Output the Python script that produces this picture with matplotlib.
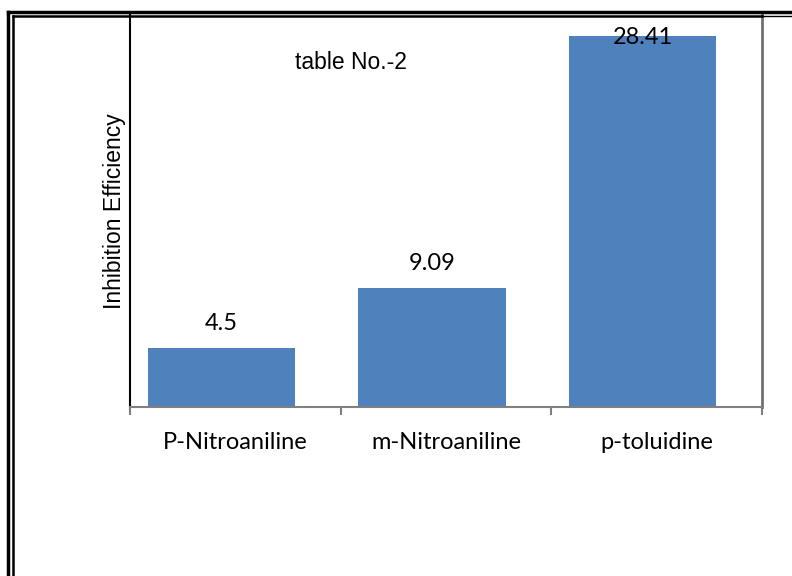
import matplotlib.pyplot as plt
from matplotlib.lines import Line2D
import numpy as np

# data
compounds = ['P-Nitroaniline', 'm-Nitroaniline', 'p-toluidine']
efficiency = [4.5, 9.09, 28.41]
value_labels = ['4.5', '9.09', '28.41']

W, H = 792, 576
fig = plt.figure(figsize=(W / 100, H / 100), dpi=100)
ax = fig.add_axes([130 / W, 1 - 407 / H, (762 - 130) / W, (407 - 15) / H])

x = np.arange(len(compounds))
bar_x = x - 0.066  # bars sit a little left of the category centre
bars = ax.bar(bar_x, efficiency, width=0.7, color='#4f81bd')

ax.set_xlim(-0.5, len(compounds) - 0.5)
ax.set_ylim(0, 30)

# value labels above bars, clamped inside the plot
for xi, v, lab in zip(bar_x, efficiency, value_labels):
    y = min(v + 1.9, 28.25)
    ax.text(xi, y, lab, ha='center', va='center', fontsize=17,
            family='Lato', color='black')

ax.set_yticks([])
ax.set_xticks(x)
ax.set_xticklabels(compounds, fontsize=17, family='Lato')
ax.tick_params(axis='x', which='major', length=0, pad=18)
ax.set_xticks(np.arange(-0.5, len(compounds)), minor=True)
ax.tick_params(axis='x', which='minor', length=6, width=1.5, color='#808080')

ax.spines['top'].set_visible(False)
ax.spines['left'].set_color('black')
ax.spines['left'].set_linewidth(1.5)
ax.spines['right'].set_color('#707070')
ax.spines['right'].set_linewidth(2)
ax.spines['bottom'].set_color('#808080')
ax.spines['bottom'].set_linewidth(1.5)

ax.set_ylabel('Inhibition Efficiency', fontsize=16.5, family='Liberation Sans',
              labelpad=3)
ax.text(0.35, 0.88, 'table No.-2', transform=ax.transAxes, ha='center',
        va='center', fontsize=16.5, family='Liberation Sans')

# double border around the chart
def fx(px):
    return px / W


def fy(py):
    return 1 - py / H


fig.add_artist(Line2D([fx(8), fx(8)], [fy(12), 0], color='black', lw=2.5))
fig.add_artist(Line2D([fx(8), 1], [fy(12), fy(12)], color='black', lw=2.5))
fig.add_artist(Line2D([fx(13), fx(13)], [fy(16), 0], color='black', lw=1.8))
fig.add_artist(Line2D([fx(13), fx(762)], [fy(16), fy(16)], color='black', lw=1.8))
fig.add_artist(Line2D([fx(762), 1], [fy(16), fy(16)], color='black', lw=1.0))

fig.savefig('out.png', dpi=100)
